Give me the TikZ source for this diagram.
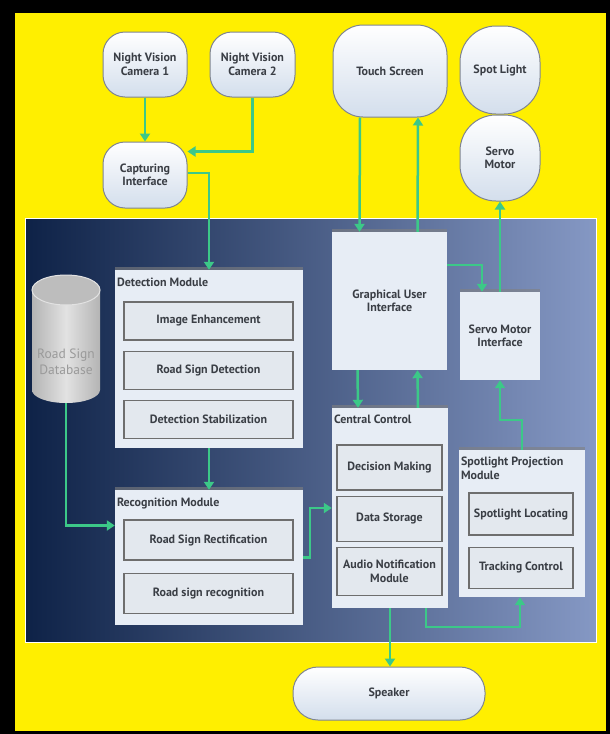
\documentclass[tikz,border=0pt]{standalone}
\usepackage{fontspec}
\setmainfont{PT Sans}
\usetikzlibrary{arrows.meta, positioning, shadows}
\definecolor{FrameYellow}{HTML}{FFEF00}
\definecolor{PanelDark}{HTML}{0E2247}
\definecolor{PanelLight}{HTML}{8598C4}
\definecolor{NodeBlue}{HTML}{D3DEEC}
\definecolor{EdgeGray}{HTML}{7F8590}
\definecolor{BoxFill}{HTML}{E7EDF5}
\definecolor{SubFill}{HTML}{E3E8EE}
\definecolor{SubEdge}{HTML}{6E6E6E}
\definecolor{TextGray}{HTML}{3A3E45}
\definecolor{LinkGreen}{HTML}{3CC888}
\definecolor{DbDark}{HTML}{B4B4B4}
\definecolor{DbLight}{HTML}{E2E2E2}
\definecolor{DbTop}{HTML}{BDBDBD}
\definecolor{DbText}{HTML}{9A9A9A}

\begin{document}
\begin{tikzpicture}[x=1pt, y=-1pt,
    font=\bfseries\fontsize{12}{13.5}\selectfont, text=TextGray,
    terminal/.style={draw=EdgeGray, line width=1pt, top color=white, bottom color=NodeBlue, align=center, inner sep=2pt},
    modulebox/.style={fill=BoxFill, drop shadow={shadow xshift=0pt, shadow yshift=3pt, opacity=.6}},
    subbox/.style={draw=SubEdge, line width=1.2pt, fill=SubFill, align=center, inner sep=2pt},
    modlabel/.style={anchor=north west, inner sep=1pt, align=left},
    link/.style={draw=LinkGreen, line width=2.5pt, -{Triangle[length=8pt, width=10pt]}}]
        \useasboundingbox (0,0) rectangle (610,734);

        % Frame and panel
        \fill[black] (0,0) rectangle (610,734);
        \fill[FrameYellow] (15,13) rectangle (606,731);
        \shade[left color=PanelDark, right color=PanelLight, draw=white, line width=1pt] (25,218) rectangle (596,642);

        % Outside devices
        \node[terminal, minimum width=84pt, minimum height=65pt, rounded corners=22pt] (cam1) at (145,64.5) {Night Vision\\Camera 1};
        \node[terminal, minimum width=85pt, minimum height=65pt, rounded corners=22pt] (cam2) at (252.5,64.5) {Night Vision\\Camera 2};
        \node[terminal, minimum width=84pt, minimum height=66pt, rounded corners=22pt] (cap) at (145,175) {Capturing\\Interface};
        \node[terminal, minimum width=114pt, minimum height=92pt, rounded corners=30pt] (touch) at (390,71) {Touch Screen};
        \node[terminal, minimum width=80pt, minimum height=88pt, rounded corners=36pt] (spot) at (500,70) {Spot Light};
        \node[terminal, minimum width=80pt, minimum height=86pt, rounded corners=36pt] (servo) at (500,158) {Servo\\Motor};
        \node[terminal, minimum width=192pt, minimum height=53pt, rounded corners=25pt] (speaker) at (389,693.5) {Speaker};

        % Road sign database
        \shade[left color=DbDark, right color=DbDark, middle color=DbLight] (32,290) rectangle (100,390) (66,390) ellipse [x radius=34pt, y radius=13pt];
        \draw[DbLight, fill=DbTop, line width=1pt] (66,290) ellipse [x radius=34pt, y radius=15pt];
        \node[font=\mdseries\fontsize{13.5}{16}\selectfont, text=DbText, align=center, minimum height=82pt, inner sep=0pt] (db) at (66,362) {Road Sign\\Database};

        % Modules
        \node[modulebox, minimum width=188pt, minimum height=178pt] (det) at (209,359) {};
        \node[modlabel] (detlbl) at ([xshift=1pt, yshift=-7pt]det.north west) {Detection Module};
        \node[subbox, minimum width=169pt, minimum height=38pt] (enh) at (208.5,321) {Image Enhancement};
        \node[subbox, minimum width=169pt, minimum height=38pt, below=10pt of enh] (rsd) {Road Sign Detection};
        \node[subbox, minimum width=169pt, minimum height=38pt, below=10pt of rsd] (stab) {Detection Stabilization};

        \node[modulebox, minimum width=188pt, minimum height=135pt] (rec) at (209,557.5) {};
        \node[modlabel] (reclbl) at ([xshift=1pt, yshift=-7pt]rec.north west) {Recognition Module};
        \node[subbox, minimum width=169pt, minimum height=40pt] (rect) at (208.5,540) {Road Sign Rectification};
        \node[subbox, minimum width=169pt, minimum height=40pt, below=12pt of rect] (recog) {Road sign recognition};

        \node[modulebox, minimum width=115pt, minimum height=138pt, align=center] (gui) at (389.5,301) {Graphical User\\Interface};
        \node[modulebox, minimum width=80pt, minimum height=88pt, align=center] (smi) at (500,336) {Servo Motor\\Interface};

        \node[modulebox, minimum width=116pt, minimum height=200pt] (cc) at (390,508) {};
        \node[modlabel] (cclbl) at ([xshift=1pt, yshift=-6pt]cc.north west) {Central Control};
        \node[subbox, minimum width=105pt, minimum height=45pt] (dm) at (389.5,467.5) {Decision Making};
        \node[subbox, minimum width=105pt, minimum height=45pt, below=5pt of dm] (ds) {Data Storage};
        \node[subbox, minimum width=105pt, minimum height=48pt, below=5pt of ds] (anm) {Audio Notification\\Module};

        \node[modulebox, minimum width=126pt, minimum height=147pt] (spm) at (522,523.5) {};
        \node[modlabel] (spmlbl) at ([xshift=1pt, yshift=-6pt]spm.north west) {Spotlight Projection\\Module};
        \node[subbox, minimum width=104pt, minimum height=42pt] (loc) at (521,514) {Spotlight Locating};
        \node[subbox, minimum width=104pt, minimum height=41pt, below=11pt of loc] (track) {Tracking Control};

        % Connectors
        \draw[link] (cam1) -- (cap);
        \draw[link] (cam2.south) |- ([yshift=-10pt]cap.north east);
        \draw[link] ([yshift=2pt]cap.east) -| (det.north);
        \draw[link] (det) -- (rec);
        \draw[link] (db.south) |- ([yshift=32pt]rec.west);
        \draw[link] (rec.east) -- ++(7,0) |- (cc.west);
        \draw[link] ([xshift=-30pt]touch.south) -- ([xshift=-30pt]gui.north);
        \draw[link] ([xshift=28pt]gui.north) -- ([xshift=28pt]touch.south);
        \draw[link] ([yshift=36pt]gui.east) -| ([xshift=-18pt]smi.north);
        \draw[link] (smi.north) -- (servo.south);
        \draw[link] (spm.north) -- ++(0,-30) -| (smi.south);
        \draw[link] ([xshift=-32pt]gui.south) -- ([xshift=-32pt]cc.north);
        \draw[link] ([xshift=28pt]cc.north) -- ([xshift=28pt]gui.south);
        \draw[link] (cc.south) -- (cc.south |- speaker.north);
        \draw[link] ([xshift=36pt]cc.south) -- ++(0,19) -| ([xshift=-2pt]spm.south);
    \end{tikzpicture}
\end{document}
